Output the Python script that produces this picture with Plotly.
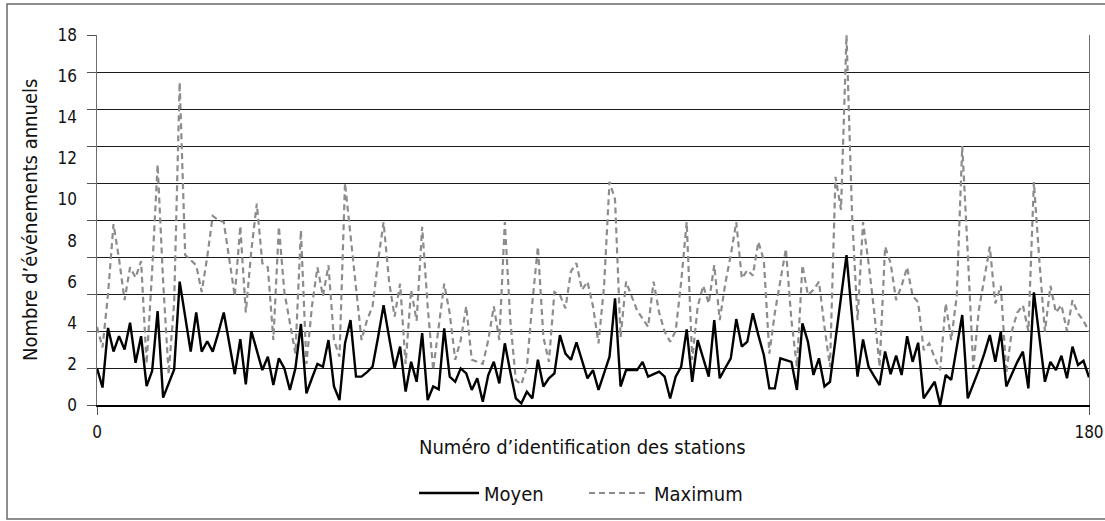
import plotly.graph_objects as go

stations = list(range(0, 181))

moyen = [
    1.8, 0.85, 3.75, 2.6, 3.35, 2.7, 4.0, 2.05, 3.35, 0.92,
    1.65, 4.57, 0.36, 1.0, 1.73, 6.0, 4.3, 2.6, 4.5, 2.6,
    3.1, 2.6, 3.5, 4.5, 3.0, 1.5, 3.2, 1.0, 3.6, 2.65,
    1.7, 2.35, 0.97, 2.27, 1.78, 0.73, 1.78, 3.94, 0.57, 1.3,
    2.0, 1.86, 3.16, 0.9, 0.24, 3.0, 4.13, 1.38, 1.38, 1.6,
    1.86, 3.3, 4.86, 3.3, 1.78, 2.84, 0.65, 2.1, 1.13, 3.5,
    0.24, 0.9, 0.76, 3.73, 1.38, 1.13, 1.78, 1.54, 0.73, 1.3,
    0.16, 1.46, 2.1, 1.05, 3.0, 1.6, 0.32, 0.08, 0.65, 0.32,
    2.2, 0.9, 1.3, 1.54, 3.4, 2.5, 2.2, 3.05, 2.2, 1.3,
    1.7, 0.73, 1.54, 2.35, 5.19, 0.9, 1.7, 1.7, 1.7, 2.1,
    1.38, 1.5, 1.62, 1.38, 0.32, 1.38, 1.86, 3.68, 1.13, 3.16,
    2.3, 1.38, 4.13, 1.3, 1.8, 2.27, 4.18, 2.84, 3.08, 4.46,
    3.4, 2.43, 0.81, 0.81, 2.27, 2.2, 2.1, 0.73, 3.97, 3.08,
    1.46, 2.27, 0.9, 1.13, 3.2, 5.2, 7.29, 4.3, 1.38, 3.19,
    1.86, 1.4, 0.97, 2.6, 1.5, 2.4, 1.46, 3.35, 2.1, 3.03,
    0.32, 0.73, 1.13, 0.0, 1.46, 1.22, 2.8, 4.38, 0.32, 1.0,
    1.7, 2.5, 3.4, 2.1, 3.57, 0.9, 1.5, 2.1, 2.6, 0.81,
    5.48, 3.3, 1.13, 2.1, 1.7, 2.4, 1.3, 2.84, 1.95, 2.15,
    1.35,
]

maximum = [
    3.8, 2.8, 5.4, 8.8, 7.1, 5.1, 6.7, 6.2, 7.0, 2.0,
    6.5, 11.7, 6.0, 1.5, 5.0, 15.7, 7.3, 7.05, 6.8, 5.5,
    7.2, 9.2, 9.0, 8.9, 7.2, 5.3, 8.7, 4.5, 7.5, 9.8,
    6.9, 6.7, 3.16, 8.67, 5.5, 4.0, 2.5, 8.5, 2.0, 4.8,
    6.7, 5.3, 6.8, 3.16, 2.35, 10.8, 8.2, 5.75, 3.16, 4.13,
    4.8, 7.0, 8.9, 6.0, 4.3, 5.9, 2.0, 5.6, 4.1, 8.67,
    4.8, 1.7, 3.8, 5.9, 4.46, 2.2, 3.16, 4.8, 2.2, 2.1,
    2.0, 3.16, 4.8, 3.16, 8.9, 4.1, 1.2, 1.0, 1.86, 5.0,
    7.7, 3.3, 2.1, 5.5, 5.35, 4.7, 6.5, 6.9, 5.6, 6.0,
    4.8, 3.0, 5.75, 10.86, 10.0, 3.3, 6.0, 5.3, 4.6, 4.2,
    3.8, 6.0, 4.5, 3.57, 3.08, 3.6, 6.0, 8.9, 2.2, 4.8,
    5.8, 4.94, 6.8, 4.13, 5.9, 7.3, 8.9, 6.16, 6.56, 6.3,
    7.94, 7.05, 2.5, 4.5, 6.0, 7.6, 4.13, 1.86, 6.8, 5.35,
    5.6, 6.0, 3.8, 1.86, 11.1, 9.5, 18.0, 9.3, 4.13, 8.9,
    6.9, 4.6, 1.86, 7.7, 6.9, 5.1, 5.8, 6.7, 5.3, 5.0,
    2.67, 3.0, 2.3, 1.7, 4.94, 3.16, 5.3, 12.6, 7.4, 1.8,
    4.6, 6.2, 7.7, 4.94, 5.8, 1.54, 3.6, 4.5, 4.85, 3.6,
    10.85, 7.0, 3.57, 5.8, 4.5, 4.86, 3.6, 5.1, 4.46, 4.1,
    3.57,
]

y_label_values = [0, 2, 4, 6, 8, 10, 12, 14, 16, 18]
y_label_text = [str(v) for v in y_label_values]
x_tick_values = [0, 180]
x_tick_text = ["0", "180"]

x_title = "Numéro d’identification des stations"
y_title = "Nombre d’événements annuels"

FONT = "DejaVu Sans Condensed, Liberation Sans Narrow, Arial Narrow, sans-serif"
TXT = "#111111"

fig = go.Figure()
fig.add_trace(go.Scatter(
    x=stations, y=maximum, name="Maximum", mode="lines",
    line=dict(color="#8c8c8c", width=2.2, dash="6px,4px"),
    yaxis="y", legendrank=2, hoverinfo="skip",
))
fig.add_trace(go.Scatter(
    x=stations, y=moyen, name="Moyen", mode="lines",
    line=dict(color="#000000", width=2.4),
    yaxis="y2", legendrank=1, hoverinfo="skip",
))

fig.update_layout(
    width=1105, height=521, autosize=False,
    margin=dict(l=97, r=16, t=35, b=116, autoexpand=False),
    paper_bgcolor="white", plot_bgcolor="white",
    font=dict(family=FONT, size=17, color=TXT),
    showlegend=True,
    legend=dict(
        orientation="h", x=0.3196, xanchor="left", y=-0.2378, yanchor="middle",
        font=dict(family=FONT, size=20, color=TXT),
        bgcolor="rgba(0,0,0,0)", itemwidth=60, entrywidth=95,
    ),
    xaxis=dict(
        range=[0, 180], tickmode="array", tickvals=x_tick_values, ticktext=x_tick_text,
        ticks="outside", ticklen=8, tickcolor="#555555", tickwidth=1,
        ticklabelstandoff=3, automargin=False,
        showline=True, linecolor="#000000", linewidth=2,
        showgrid=False, zeroline=False,
        tickfont=dict(family=FONT, size=17, color=TXT),
    ),
    yaxis=dict(
        range=[0, 18], tickmode="array", tickvals=y_label_values, ticktext=y_label_text,
        ticks="", showgrid=False, showline=False, zeroline=False,
        ticklabelstandoff=19, automargin=False,
        tickfont=dict(family=FONT, size=17, color=TXT),
    ),
    yaxis2=dict(
        overlaying="y", side="left", range=[0, 18],
        tickmode="linear", tick0=0, dtick=1.8, showticklabels=False,
        ticks="outside", ticklen=9, tickcolor="#555555", tickwidth=1,
        showgrid=True, gridcolor="#1a1a1a", gridwidth=1,
        showline=True, mirror=True, linecolor="#6e6e6e", linewidth=1,
        zeroline=False, automargin=False,
    ),
    annotations=[
        dict(text=x_title, xref="paper", yref="paper", x=0.489, y=-0.1135,
             xanchor="center", yanchor="middle", showarrow=False,
             font=dict(family=FONT, size=20, color=TXT)),
        dict(text=y_title, xref="paper", yref="paper", x=-0.0675, y=0.5,
             xanchor="center", yanchor="middle", showarrow=False, textangle=-90,
             font=dict(family=FONT, size=20, color=TXT)),
    ],
    shapes=[dict(
        type="rect", xref="paper", yref="paper",
        x0=-0.0907, x1=1.03, y0=-0.308, y1=1.0838,
        line=dict(color="#6a6a6a", width=1.5), fillcolor="rgba(0,0,0,0)", layer="below",
    )],
)

page_fix = (
    "var de=document.documentElement, b=document.body;"
    "de.style.margin='0';de.style.padding='0';de.style.overflow='hidden';"
    "b.style.margin='0';b.style.padding='0';b.style.overflow='hidden';"
    "b.style.height='521px';b.style.lineHeight='0';"
    "var gd=document.getElementById('{plot_id}');"
    "if(gd){gd.style.display='block';"
    "var sc=gd.querySelectorAll('.svg-container');"
    "for(var i=0;i<sc.length;i++){sc[i].style.display='block';}}"
)

fig.write_html(
    "out.html",
    config={"displayModeBar": False, "staticPlot": True},
    post_script=page_fix,
)
